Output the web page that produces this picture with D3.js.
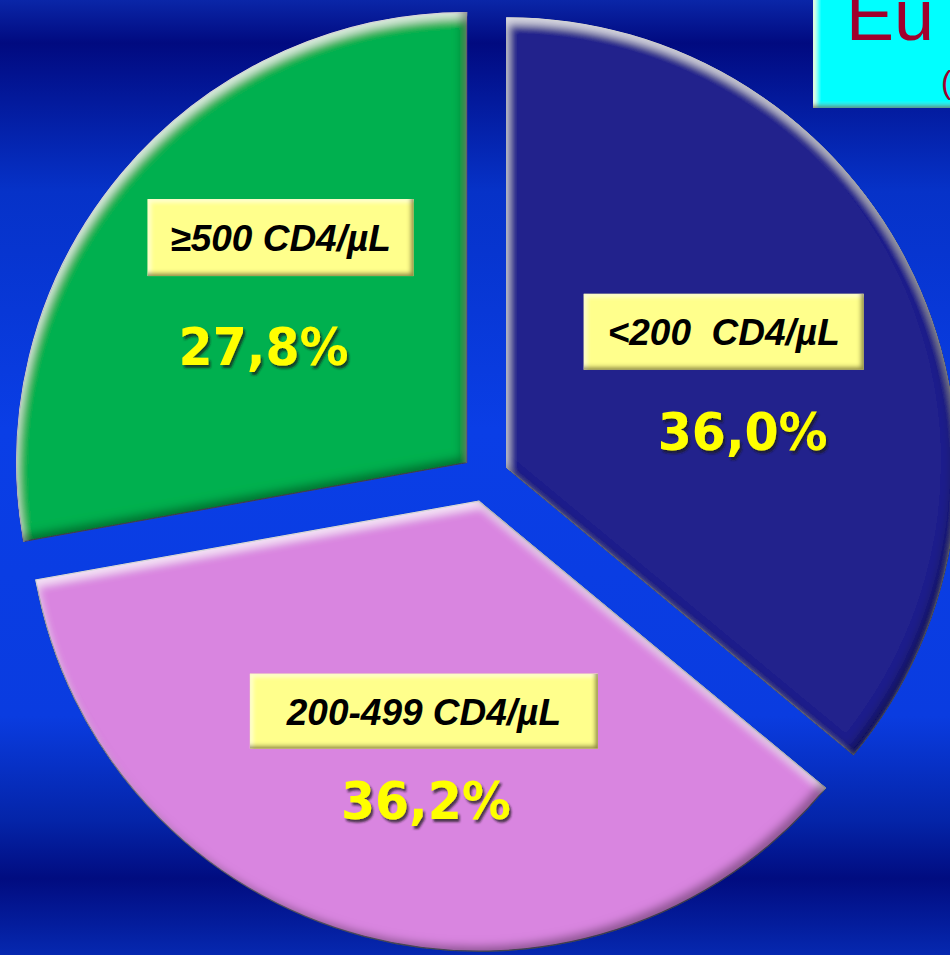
<!DOCTYPE html>
<html>
<head>
<meta charset="utf-8">
<script src="https://cdn.jsdelivr.net/npm/d3@7"></script>
<style>
  html, body { margin: 0; padding: 0; background: #0a3ad8; overflow: hidden; }
  svg { display: block; }
</style>
</head>
<body>
<svg id="chart" width="950" height="955"></svg>
<script>
// Values
const categories = ["<200  CD4/µL", "200-499 CD4/µL", "≥500 CD4/µL"];
const shares = [36.0, 36.2, 27.8];
const shareLabels = ["36,0%", "36,2%", "27,8%"];
const sliceColors = ["#24248c", "#d985e0", "#00b050"];

// Label placement, relative to each slice's (exploded) apex
const labelBox = [
  { dx: 217, dy: -136, w: 280, h: 76, pdx: 236, pdy: -18 },
  { dx: -55, dy: 210, w: 348, h: 75, pdx: -53, pdy: 318 },
  { dx: -186, dy: -225, w: 266, h: 77, pdx: -203, pdy: -98 }
];

function drawPie() {
  const svg = d3.select("#chart");
  const width = +svg.attr("width");
  const height = +svg.attr("height");

  const cx = 485, cy = 478;
  const radius = 450;
  const explode = 24;

  const defs = svg.append("defs");

  // Background: blue with two dark bands
  const bg = defs.append("linearGradient")
    .attr("id", "bg").attr("x1", 0).attr("y1", 0).attr("x2", 0).attr("y2", 1);
  [["0%", "#0a26a8"], ["4.5%", "#010a80"], ["20%", "#0632c8"], ["45%", "#0a3ee6"],
   ["75%", "#0a3ce0"], ["86%", "#0424a8"], ["92%", "#010c80"], ["100%", "#0628b0"]]
    .forEach(s => bg.append("stop").attr("offset", s[0]).attr("stop-color", s[1]));

  svg.append("rect")
    .attr("width", width)
    .attr("height", height)
    .attr("fill", "url(#bg)");

  // Bevel for the slices
  const bevel = defs.append("filter").attr("id", "bevel")
    .attr("x", "-5%").attr("y", "-5%").attr("width", "110%").attr("height", "110%");
  bevel.append("feGaussianBlur").attr("in", "SourceAlpha").attr("stdDeviation", 4).attr("result", "blur");
  bevel.append("feOffset").attr("in", "blur").attr("dx", 2).attr("dy", 7).attr("result", "down");
  bevel.append("feComposite").attr("in", "SourceAlpha").attr("in2", "down")
    .attr("operator", "arithmetic").attr("k2", 1).attr("k3", -1).attr("result", "topEdge");
  bevel.append("feFlood").attr("flood-color", "#ffffff").attr("flood-opacity", 0.7);
  bevel.append("feComposite").attr("in2", "topEdge").attr("operator", "in").attr("result", "hi");
  bevel.append("feOffset").attr("in", "blur").attr("dx", -6).attr("dy", -6).attr("result", "up");
  bevel.append("feComposite").attr("in", "SourceAlpha").attr("in2", "up")
    .attr("operator", "arithmetic").attr("k2", 1).attr("k3", -1).attr("result", "botEdge");
  bevel.append("feFlood").attr("flood-color", "#000000").attr("flood-opacity", 0.6);
  bevel.append("feComposite").attr("in2", "botEdge").attr("operator", "in").attr("result", "sh");
  const bm = bevel.append("feMerge");
  ["SourceGraphic", "hi", "sh"].forEach(n => bm.append("feMergeNode").attr("in", n));

  // Smaller bevel for the label boxes
  const boxBevel = defs.append("filter").attr("id", "boxBevel");
  boxBevel.append("feGaussianBlur").attr("in", "SourceAlpha").attr("stdDeviation", 2).attr("result", "blur");
  boxBevel.append("feOffset").attr("in", "blur").attr("dx", 3).attr("dy", 3).attr("result", "down");
  boxBevel.append("feComposite").attr("in", "SourceAlpha").attr("in2", "down")
    .attr("operator", "arithmetic").attr("k2", 1).attr("k3", -1).attr("result", "topEdge");
  boxBevel.append("feFlood").attr("flood-color", "#ffffd8").attr("flood-opacity", 0.9);
  boxBevel.append("feComposite").attr("in2", "topEdge").attr("operator", "in").attr("result", "hi");
  boxBevel.append("feOffset").attr("in", "blur").attr("dx", -3).attr("dy", -3).attr("result", "up");
  boxBevel.append("feComposite").attr("in", "SourceAlpha").attr("in2", "up")
    .attr("operator", "arithmetic").attr("k2", 1).attr("k3", -1).attr("result", "botEdge");
  boxBevel.append("feFlood").attr("flood-color", "#5a5010").attr("flood-opacity", 0.8);
  boxBevel.append("feComposite").attr("in2", "botEdge").attr("operator", "in").attr("result", "sh");
  const bb = boxBevel.append("feMerge");
  ["SourceGraphic", "hi", "sh"].forEach(n => bb.append("feMergeNode").attr("in", n));

  // Shadow under the percentages
  defs.append("filter").attr("id", "txtShadow")
    .append("feDropShadow")
    .attr("dx", 2).attr("dy", 3).attr("stdDeviation", 1.2)
    .attr("flood-color", "#1a1a1a").attr("flood-opacity", 0.75);

  const pie = d3.pie().sort(null).value(d => d)
    .startAngle(0).endAngle(2 * Math.PI);
  const arcs = pie(shares);

  const arc = d3.arc().innerRadius(0).outerRadius(radius);

  const g = svg.append("g")
    .attr("transform", `translate(${cx}, ${cy})`);

  // Each slice pushed out along its bisector
  const slice = g.selectAll("g.slice")
    .data(arcs)
    .join("g")
    .attr("class", "slice")
    .attr("transform", d => {
      const a = (d.startAngle + d.endAngle) / 2;
      return `translate(${explode * Math.sin(a)}, ${-explode * Math.cos(a)})`;
    });

  slice.append("path")
    .attr("d", arc)
    .attr("fill", (d, i) => sliceColors[i])
    .attr("stroke", "#5c5c70")
    .attr("stroke-width", 1.2)
    .attr("filter", "url(#bevel)");

  // Category boxes
  slice.append("rect")
    .attr("x", (d, i) => labelBox[i].dx - labelBox[i].w / 2)
    .attr("y", (d, i) => labelBox[i].dy - labelBox[i].h / 2)
    .attr("width", (d, i) => labelBox[i].w)
    .attr("height", (d, i) => labelBox[i].h)
    .attr("fill", "#ffff8c")
    .attr("filter", "url(#boxBevel)");

  slice.append("text")
    .attr("x", (d, i) => labelBox[i].dx)
    .attr("y", (d, i) => labelBox[i].dy)
    .attr("dy", "0.36em")
    .attr("text-anchor", "middle")
    .attr("font-family", "'Liberation Sans', Arial, sans-serif")
    .attr("font-weight", "bold")
    .attr("font-style", "italic")
    .attr("font-size", "37px")
    .attr("fill", "#000")
    .style("white-space", "pre")
    .text((d, i) => categories[i]);

  // Percentages
  slice.append("text")
    .attr("x", (d, i) => labelBox[i].pdx)
    .attr("y", (d, i) => labelBox[i].pdy)
    .attr("text-anchor", "middle")
    .attr("font-family", "'DejaVu Sans', Verdana, sans-serif")
    .attr("font-weight", "bold")
    .attr("font-size", "52px")
    .attr("textLength", 170)
    .attr("lengthAdjust", "spacingAndGlyphs")
    .attr("fill", "#ffff00")
    .attr("filter", "url(#txtShadow)")
    .text((d, i) => shareLabels[i]);

  // Cut-off title box in the corner
  const title = svg.append("g");
  title.append("rect")
    .attr("x", 813).attr("y", -30)
    .attr("width", 200).attr("height", 138)
    .attr("fill", "#00ffff")
    .attr("filter", "url(#boxBevel)");
  title.append("text")
    .attr("x", 846).attr("y", 40)
    .attr("font-family", "'Liberation Sans', Arial, sans-serif")
    .attr("font-size", "72px")
    .attr("fill", "#a0002c")
    .text("Eu");
  title.append("text")
    .attr("x", 941).attr("y", 93)
    .attr("font-family", "'Liberation Sans', Arial, sans-serif")
    .attr("font-size", "32px")
    .attr("fill", "#a0002c")
    .text("(");
}

drawPie();
</script>
</body>
</html>
